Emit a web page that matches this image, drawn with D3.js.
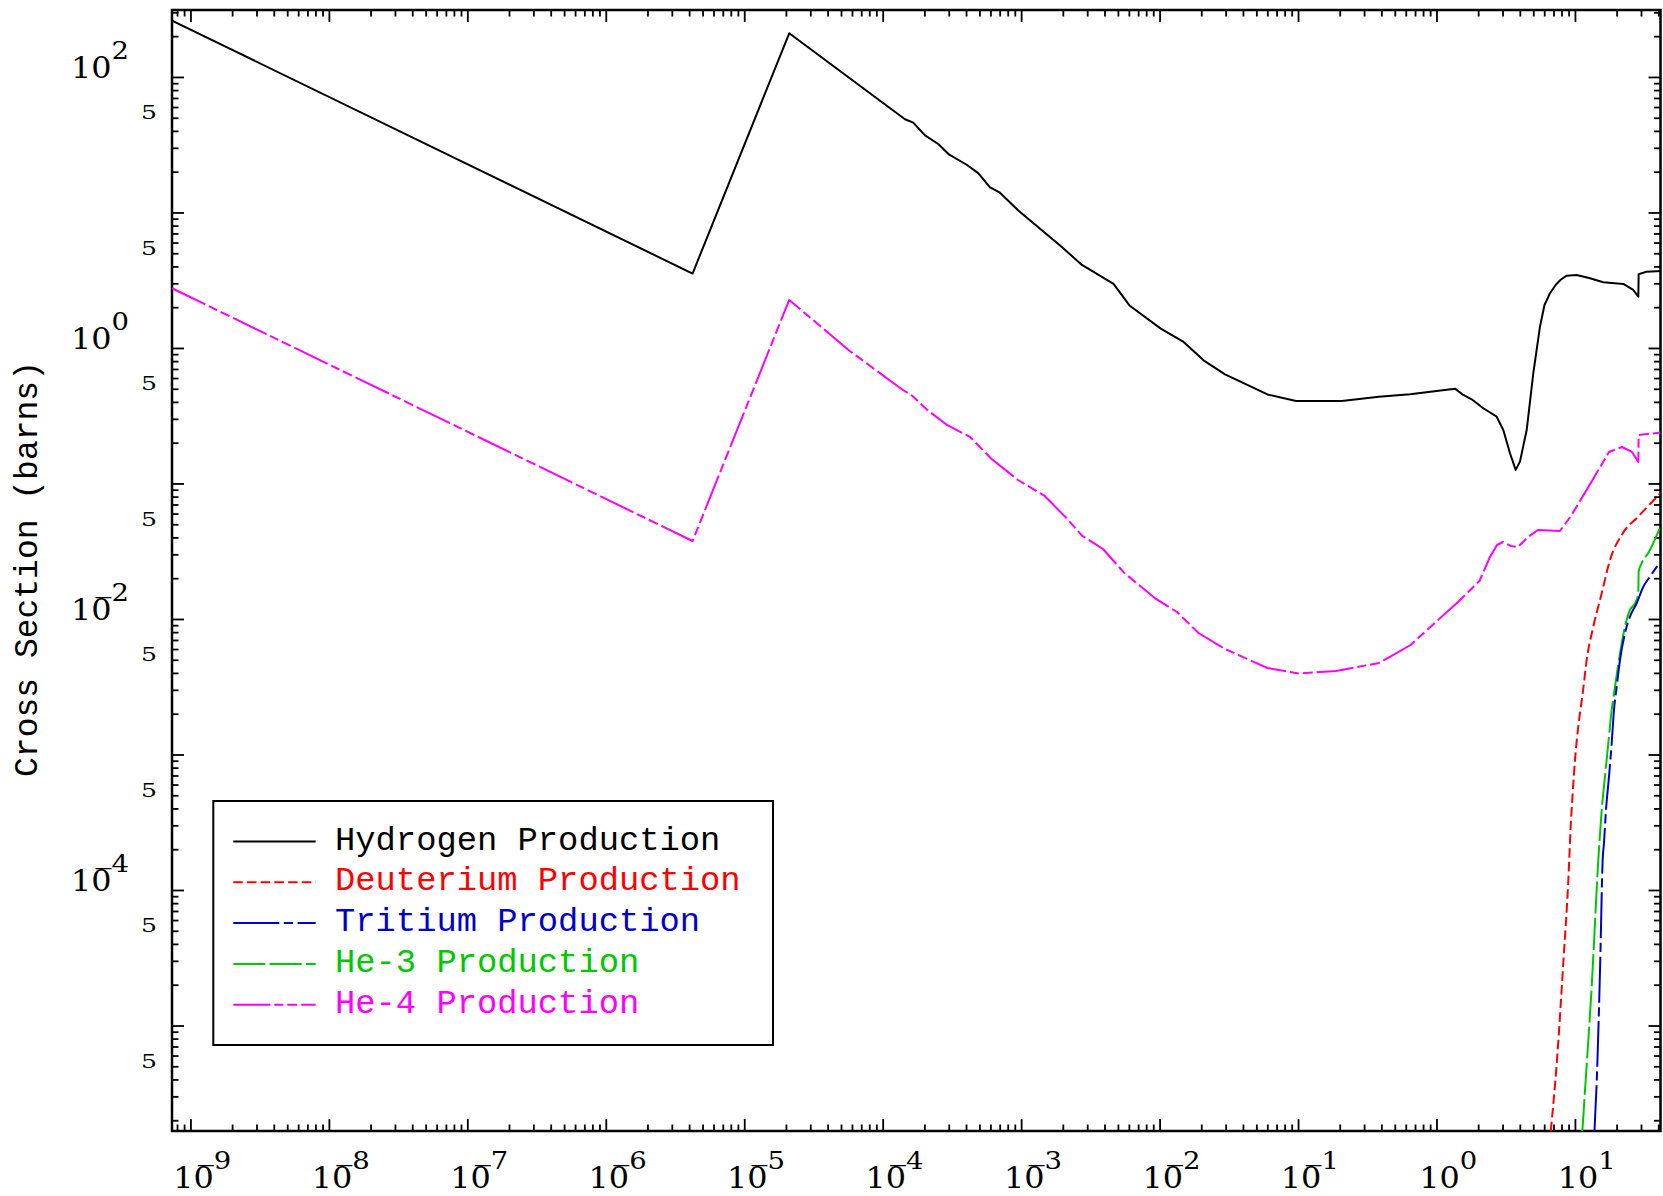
<!DOCTYPE html>
<html><head><meta charset="utf-8">
<script src="https://cdn.jsdelivr.net/npm/d3@7"></script>
<style>html,body{margin:0;padding:0;background:#fff} svg{display:block}</style>
</head><body>
<svg id="chart" width="1663" height="1196"></svg>
<script>
// ---------------- data (energy, cross section in barns) ----------------
const hydrogenE = [7.36e-10, 4.236e-6, 2.113e-5, 1.449e-4, 1.663e-4, 2.021e-4, 2.521e-4, 3.027e-4, 4.043e-4, 4.90e-4, 5.96e-4, 7.03e-4, 9.49e-4, 1.93e-3, 2.75e-3, 4.65e-3, 6.06e-3, 1.02e-2, 1.47e-2, 2.09e-2, 2.97e-2, 6.01e-2, 9.67e-2, 0.207, 0.383, 0.644, 1.360, 1.562, 1.796, 2.178, 2.721, 3.037, 3.396, 3.734, 4.009, 4.482, 5.005, 5.591, 6.026, 6.604, 7.296, 7.932, 8.718, 10.29, 12.85, 16.03, 22.35, 26.39, 28.7, 28.85, 32.98, 41.84];
const hydrogenXS = [260.3, 3.541, 210.1, 48.75, 46.0, 37.1, 32.0, 26.7, 22.5, 19.5, 15.3, 14.0, 10.4, 5.66, 4.10, 2.97, 2.06, 1.39, 1.12, 0.807, 0.639, 0.454, 0.406, 0.406, 0.437, 0.455, 0.501, 0.450, 0.418, 0.359, 0.311, 0.248, 0.167, 0.126, 0.145, 0.248, 0.651, 1.436, 2.076, 2.533, 2.942, 3.203, 3.417, 3.457, 3.269, 3.054, 2.967, 2.679, 2.391, 3.499, 3.657, 3.701];

const deuteriumE = [6.692, 7.420, 8.240, 8.982, 9.318, 9.632, 10.01, 10.57, 11.38, 12.16, 13.57, 15.61, 17.92, 21.88, 28.92, 41.63];
const deuteriumXS = [1.665e-6, 5.563e-6, 2.892e-5, 1.247e-4, 2.932e-4, 5.172e-4, 9.108e-4, 1.604e-3, 2.829e-3, 4.982e-3, 8.774e-3, 1.548e-2, 2.725e-2, 4.210e-2, 5.755e-2, 8.511e-2];

const tritiumE = [13.84, 14.38, 15.22, 15.86, 16.21, 16.76, 17.62, 18.43, 19.15, 20.03, 21.16, 22.98, 24.98, 27.93, 31.17, 34.84, 39.99, 41.84];
const tritiumXS = [1.665e-6, 3.961e-6, 2.858e-5, 1.665e-4, 2.212e-4, 3.894e-4, 6.857e-4, 1.210e-3, 2.130e-3, 3.165e-3, 4.982e-3, 7.843e-3, 1.040e-2, 1.306e-2, 1.731e-2, 2.052e-2, 2.503e-2, 2.634e-2];

const he3E = [11.32, 11.96, 13.23, 14.75, 15.61, 16.48, 17.42, 18.43, 19.47, 21.16, 22.98, 24.98, 27.15, 28.7, 28.85, 30.35, 34.27, 41.63];
const he3XS = [1.665e-6, 3.961e-6, 1.977e-5, 1.665e-4, 3.894e-4, 6.857e-4, 1.210e-3, 2.130e-3, 3.165e-3, 5.582e-3, 8.774e-3, 1.165e-2, 1.306e-2, 1.548e-2, 2.235e-2, 2.577e-2, 3.132e-2, 4.873e-2];

const he4E = [7.36e-10, 4.236e-6, 2.113e-5, 2.787e-5, 5.66e-5, 1.367e-4, 1.627e-4, 2.124e-4, 2.914e-4, 4.271e-4, 6.128e-4, 9.489e-4, 1.480e-3, 2.109e-3, 2.751e-3, 3.901e-3, 5.534e-3, 9.419e-3, 1.336e-2, 1.910e-2, 2.968e-2, 6.007e-2, 0.1016, 0.188, 0.3845, 0.650, 0.9249, 1.430, 2.044, 2.434, 2.735, 3.022, 3.452, 3.879, 4.580, 5.410, 7.798, 9.365, 13.28, 17.62, 21.88, 25.83, 28.7, 28.85, 41.84];
const he4XS = [2.758, 3.763e-2, 2.262, 1.782, 0.9665, 0.4981, 0.4453, 0.3457, 0.2702, 0.2204, 0.1516, 0.1061, 0.08086, 0.05601, 0.04125, 0.03285, 0.02196, 0.01405, 0.01126, 7.883e-3, 6.006e-3, 4.349e-3, 3.960e-3, 4.131e-3, 4.734e-3, 6.427e-3, 8.925e-3, 0.01335, 0.01907, 0.02868, 0.03516, 0.03700, 0.03456, 0.03399, 0.04028, 0.04537, 0.04461, 0.05755, 0.1043, 0.1708, 0.1859, 0.1708, 0.1441, 0.2279, 0.2378];

const seriesNames = ["Hydrogen Production", "Deuterium Production", "Tritium Production", "He-3 Production", "He-4 Production"];
const seriesColors = ["#000000", "#ff0000", "#0000cc", "#00c800", "#ff00ff"];

const xDomain = [7.36e-10, 41.5];
const yDomain = [1.665e-6, 312];
const xLabelExps = [-9, -8, -7, -6, -5, -4, -3, -2, -1, 0, 1];
const yLabelExps = [2, 0, -2, -4];
const yFiveLabels = [50, 5, 0.5, 0.05, 0.005, 5e-4, 5e-5, 5e-6];
const yTitle = "Cross Section (barns)";

// ---------------- layout ----------------
const L = 172, R = 1660.5, T = 10, B = 1131;
const svg = d3.select("#chart");
const x = d3.scaleLog().domain(xDomain).range([L, R]);
const y = d3.scaleLog().domain(yDomain).range([B, T]);

function logTicks(lo, hi, dom) {
  const maj = [], min = [];
  for (let e = lo; e <= hi; e++) {
    for (let m = 1; m <= 9; m++) {
      const v = +(m + "e" + e);
      if (v < dom[0] || v > dom[1]) continue;
      (m === 1 ? maj : min).push(v);
    }
  }
  return { maj, min };
}
const xt = logTicks(-10, 1, xDomain);
const yt = logTicks(-6, 2, yDomain);

function tickGroup(axis, tr, vals, size) {
  svg.append("g").attr("transform", tr)
    .call(axis.tickValues(vals).tickSize(-size).tickFormat(""))
    .call(g => { g.select(".domain").remove(); g.selectAll("line").attr("stroke", "#000").attr("stroke-width", 1.8); });
}
[[xt.maj, 12], [xt.min, 6.5]].forEach(([v, s]) => {
  tickGroup(d3.axisBottom(x), `translate(0,${B})`, v, s);
  tickGroup(d3.axisTop(x), `translate(0,${T})`, v, s);
});
[[yt.maj, 12], [yt.min, 6.5]].forEach(([v, s]) => {
  tickGroup(d3.axisLeft(y), `translate(${L},0)`, v, s);
  tickGroup(d3.axisRight(y), `translate(${R},0)`, v, s);
});

// frame
svg.append("rect").attr("x", L).attr("y", T).attr("width", R - L).attr("height", B - T)
  .attr("fill", "none").attr("stroke", "#000").attr("stroke-width", 2.5);

// labels: "10" with a raised exponent; a negative sign is drawn as a bar over the 0 (as in the reference)
const labelFont = "DejaVu Serif";
function powLabel(px, py, e) {
  const t = svg.append("text").attr("transform", `translate(${px},${py}) scale(1.1,1)`)
    .attr("font-family", labelFont).attr("font-size", 29).attr("fill", "#000");
  t.append("tspan").text(e < 0 ? "10\u0305" : "10");
  t.append("tspan").attr("dy", -19).attr("font-size", 25).text(Math.abs(e));
}
yLabelExps.forEach(e => powLabel(71, y(Math.pow(10, e)) + 1, e));
xLabelExps.forEach(e => powLabel(x(Math.pow(10, e)) - 17.2, 1188, e));
svg.selectAll("text.five").data(yFiveLabels).enter().append("text").attr("class", "five")
  .attr("transform", d => `translate(157,${y(d) + 1.5}) scale(1.4,1)`).attr("text-anchor", "end")
  .attr("font-family", labelFont).attr("font-size", 18).text("5");

svg.append("text").attr("transform", `translate(37,569) rotate(-90)`)
  .attr("text-anchor", "middle").attr("font-family", "Liberation Mono").attr("font-size", 33)
  .text(yTitle);

// curves
svg.append("clipPath").attr("id", "clip").append("rect")
  .attr("x", L).attr("y", T).attr("width", R - L).attr("height", B - T);
const dashes = [null, "9.5,4.2", "46,4.5,9.3,4.5", "32,4.3", "37,4,9,4,10,4"];
const series = [
  [hydrogenE, hydrogenXS, d3.curveLinear],
  [deuteriumE, deuteriumXS, d3.curveMonotoneX],
  [tritiumE, tritiumXS, d3.curveMonotoneX],
  [he3E, he3XS, d3.curveMonotoneX],
  [he4E, he4XS, d3.curveLinear]
];
const plot = svg.append("g").attr("clip-path", "url(#clip)");
const drawOrder = [4, 1, 3, 2, 0];
drawOrder.forEach(i => {
  const [E, S, c] = series[i];
  const pts = E.map((e, k) => [e, S[k]]);
  const line = d3.line().x(d => x(d[0])).y(d => y(d[1])).curve(c);
  plot.append("path").attr("d", line(pts)).attr("fill", "none")
    .attr("stroke", seriesColors[i]).attr("stroke-width", 2)
    .attr("stroke-dasharray", dashes[i]).attr("stroke-linejoin", "round");
});

// legend
const lg = svg.append("g");
lg.append("rect").attr("x", 213.3).attr("y", 801).attr("width", 773 - 213.3).attr("height", 1045 - 801)
  .attr("fill", "#fff").attr("stroke", "#000").attr("stroke-width", 2);
seriesNames.forEach((n, i) => {
  const ly = 841.5 + i * 40.8;
  lg.append("line").attr("x1", 233.3).attr("x2", 315.7).attr("y1", ly).attr("y2", ly)
    .attr("stroke", seriesColors[i]).attr("stroke-width", 2).attr("stroke-dasharray", dashes[i]);
  lg.append("text").attr("x", 335).attr("y", ly + 8).attr("font-family", "Liberation Mono")
    .attr("font-size", 33.8).attr("fill", seriesColors[i]).text(n);
});
</script>
</body></html>
